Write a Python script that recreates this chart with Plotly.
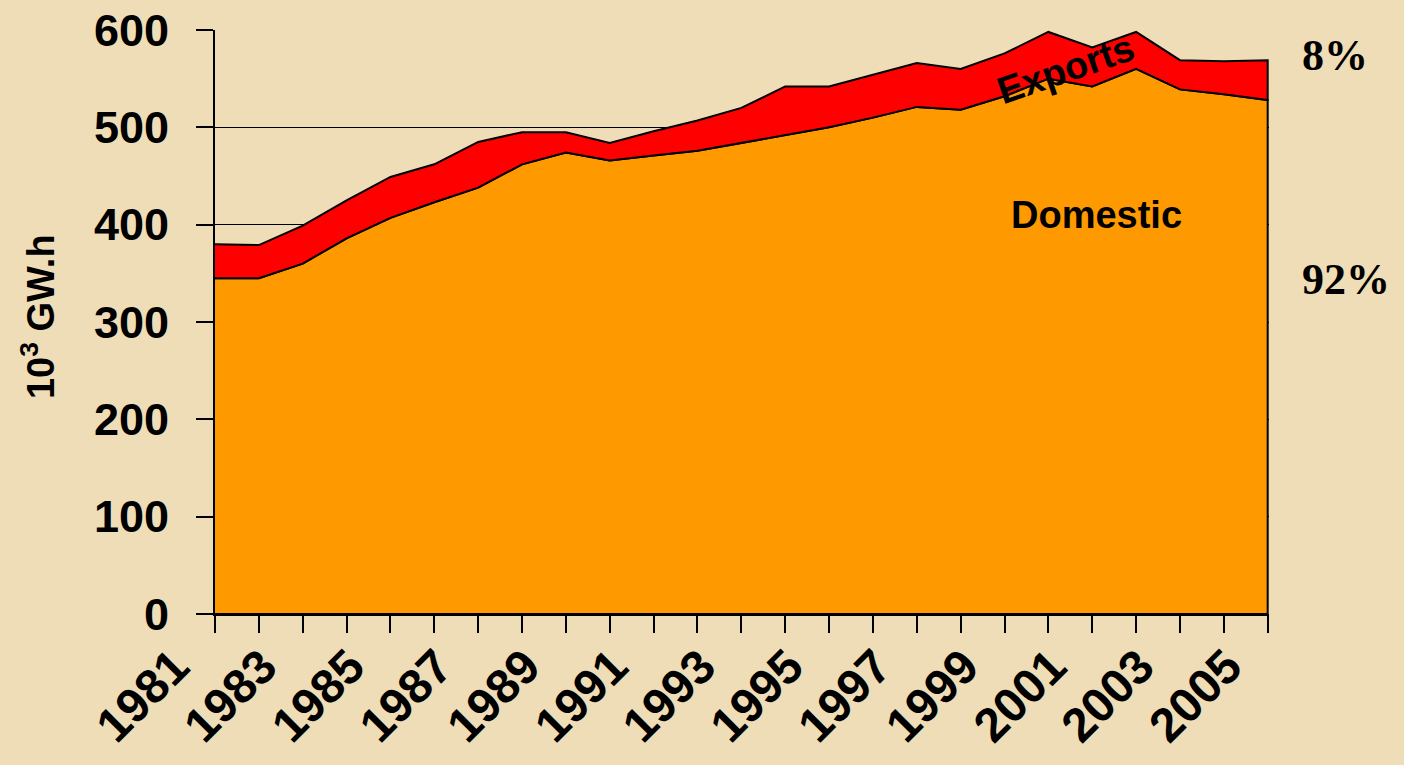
import plotly.graph_objects as go

years = [1981, 1982, 1983, 1984, 1985, 1986, 1987, 1988, 1989, 1990,
         1991, 1992, 1993, 1994, 1995, 1996, 1997, 1998, 1999, 2000,
         2001, 2002, 2003, 2004, 2005]
domestic = [345, 345, 360, 386, 407, 423, 438, 462, 474, 466,
            471, 476, 484, 492, 500, 510, 521, 518, 532, 550,
            542, 560, 539, 534, 528]
exports = [35, 34, 39, 39, 42, 39, 47, 33, 21, 18,
           25, 31, 36, 50, 42, 44, 45, 42, 44, 48,
           40, 38, 30, 34, 41]
label_years = [1981, 1983, 1985, 1987, 1989, 1991, 1993, 1995, 1997,
               1999, 2001, 2003, 2005]
y_ticks = [0, 100, 200, 300, 400, 500, 600]

totals = [d + e for d, e in zip(domestic, exports)]

BG = "#EEDDB6"
ORANGE = "#FF9900"
RED = "#FF0000"
SANS = "Liberation Sans, Arial, sans-serif"
SERIF = "Liberation Serif, Times New Roman, serif"

fig = go.Figure()

# Domestic area (closed polygon down to zero)
fig.add_trace(go.Scatter(
    x=years + [years[-1], years[0]],
    y=domestic + [0, 0],
    mode="lines", fill="toself", fillcolor=ORANGE,
    line=dict(color="black", width=2),
    name="Domestic", showlegend=False, hoverinfo="skip",
))

# Exports band between domestic and total
fig.add_trace(go.Scatter(
    x=years + years[::-1],
    y=totals + domestic[::-1],
    mode="lines", fill="toself", fillcolor=RED,
    line=dict(color="black", width=2),
    name="Exports", showlegend=False, hoverinfo="skip",
))

fig.update_layout(
    width=1404, height=765,
    margin=dict(l=215, r=135, t=30, b=151),
    paper_bgcolor=BG, plot_bgcolor=BG,
    showlegend=False,
    xaxis=dict(
        range=[1981, 2005.03],
        tickmode="array", tickvals=label_years,
        tickangle=-45,
        ticks="outside", ticklen=17, tickwidth=1.5, tickcolor="black",
        minor=dict(tickmode="linear", tick0=1981, dtick=1, ticks="outside",
                   ticklen=17, tickwidth=1.5, tickcolor="black", showgrid=False),
        showline=True, linecolor="black", linewidth=2,
        showgrid=False, zeroline=False, automargin=False,
        tickfont=dict(family=SANS, size=48, color="black", weight="bold"),
        ticklabelstandoff=-14, ticklabelshift=-40,
    ),
    yaxis=dict(
        range=[0, 600],
        tickmode="array", tickvals=y_ticks,
        ticks="outside", ticklen=17, tickwidth=1.5, tickcolor="black",
        showline=True, linecolor="black", linewidth=2,
        showgrid=True, gridcolor="black", gridwidth=1.2,
        zeroline=False, automargin=False,
        tickfont=dict(family=SANS, size=45, color="black", weight="bold"),
        ticklabelstandoff=18,
    ),
    annotations=[
        dict(text="10<sup>3</sup> GW.h", xref="paper", yref="paper",
             x=-0.168, y=0.51, textangle=-90, showarrow=False,
             font=dict(family=SANS, size=38, color="black", weight="bold"),
             xanchor="center", yanchor="middle"),
        dict(text="Domestic", xref="x", yref="y", x=2001.1, y=410,
             showarrow=False,
             font=dict(family=SANS, size=38, color="black", weight="bold")),
        dict(text="Exports", xref="x", yref="y", x=2000.4, y=560,
             textangle=-19, showarrow=False,
             font=dict(family=SANS, size=38, color="black", weight="bold")),
        dict(text="8%", xref="paper", yref="paper", x=1.0294, y=0.957,
             xanchor="left", yanchor="middle", showarrow=False,
             font=dict(family=SERIF, size=44, color="black", weight="bold")),
        dict(text="92%", xref="paper", yref="paper", x=1.0294, y=0.572,
             xanchor="left", yanchor="middle", showarrow=False,
             font=dict(family=SERIF, size=44, color="black", weight="bold")),
    ],
)

fig.write_html("out.html",
               config={"displayModeBar": False},
               post_script="document.body.style.margin='0';document.body.style.overflow='hidden';")
